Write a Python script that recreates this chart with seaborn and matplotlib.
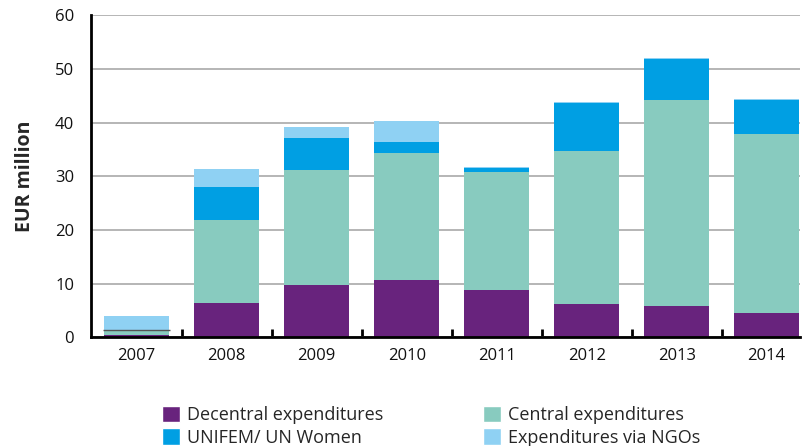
import matplotlib
matplotlib.use("Agg")
import matplotlib.pyplot as plt
import numpy as np
import pandas as pd
import seaborn as sns
from matplotlib.patches import Patch

years = ["2007", "2008", "2009", "2010", "2011", "2012", "2013", "2014"]
decentral = [0.4, 6.3, 9.7, 10.6, 8.8, 6.1, 5.8, 4.5]
central = [0.7, 15.5, 21.4, 23.7, 21.9, 28.5, 38.3, 33.3]
unifem = [0.2, 6.1, 6.0, 2.0, 0.8, 9.0, 7.7, 6.3]
ngos = [2.6, 3.4, 2.0, 3.9, 0.3, 0.2, 0.2, 0.2]

series = ["Decentral expenditures", "Central expenditures", "UNIFEM/ UN Women", "Expenditures via NGOs"]
colors = ["#68237d", "#88cbbf", "#009fe3", "#8fd1f3"]

df = pd.DataFrame({"year": years, series[0]: decentral, series[1]: central,
                   series[2]: unifem, series[3]: ngos})

sns.set_style("white")
plt.rcParams["font.family"] = ["Open Sans", "DejaVu Sans"]

fig = plt.figure(figsize=(8.04, 4.46), dpi=100)
ax = fig.add_axes([0.113, 0.244, 0.882, 0.722])

bottom = np.zeros(len(years))
for name, color in zip(series, colors):
    sns.barplot(data=df, x="year", y=name, color=color, bottom=bottom,
                width=0.72, ax=ax, saturation=1, linewidth=0, zorder=3)
    bottom = bottom + df[name].to_numpy()

# dark line in the small 2007 bar
ax.hlines(decentral[0] + central[0] + unifem[0], -0.37, 0.37, color="#555555", lw=1, zorder=4)

ax.set_ylim(0, 60)
ax.set_xlim(-0.51, 7.37)
ax.set_yticks(range(0, 61, 10))
ax.yaxis.grid(True, color="#b0b0b0", lw=1.3, zorder=0)
ax.xaxis.grid(False)
ax.set_xlabel("")
ax.set_ylabel("EUR million", fontsize=14, fontweight="bold", labelpad=14)

for s in ["top", "right"]:
    ax.spines[s].set_visible(False)
for s in ["left", "bottom"]:
    ax.spines[s].set_color("black")
    ax.spines[s].set_linewidth(2)
    ax.spines[s].set_zorder(5)

ax.set_xticks(np.arange(len(years)))
ax.set_xticklabels(years)
ax.set_xticks(np.arange(len(years) - 1) + 0.5, minor=True)
ax.tick_params(axis="x", which="major", length=0, labelsize=12, pad=8, labelcolor="#111111")
ax.tick_params(axis="x", which="minor", direction="in", length=6, width=2, color="black", bottom=True)
ax.tick_params(axis="y", length=0, labelsize=12, pad=12, labelcolor="#111111")

# legend filled column by column: reorder so rows read Decentral/Central, UNIFEM/NGOs
order = [0, 2, 1, 3]
handles = [Patch(facecolor=colors[i], label=series[i]) for i in order]
fig.legend(handles=handles, loc="lower left", bbox_to_anchor=(0.181, -0.038), ncol=2,
           frameon=False, fontsize=13, handlelength=1.0, handleheight=1.0,
           handletextpad=0.4, columnspacing=5.5, labelspacing=0.25)

fig.savefig("out.png", dpi=100)
